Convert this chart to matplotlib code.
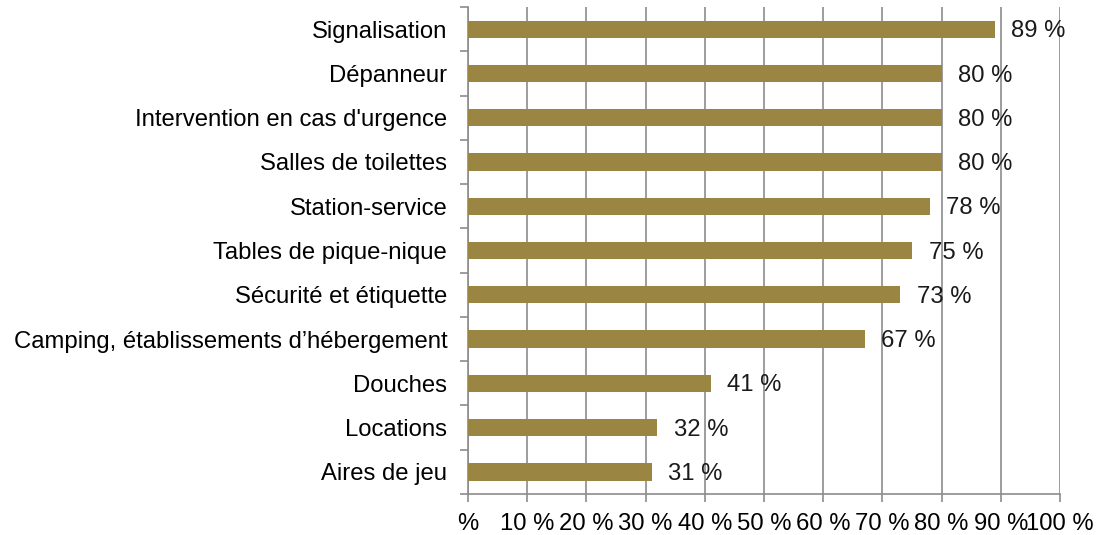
import numpy as np
import matplotlib.pyplot as plt
from matplotlib.ticker import FixedLocator

categories = ['Signalisation', 'Dépanneur', "Intervention en cas d'urgence",
              'Salles de toilettes', 'Station-service', 'Tables de pique-nique',
              'Sécurité et étiquette', 'Camping, établissements d\u2019hébergement',
              'Douches', 'Locations', 'Aires de jeu']
values = [89, 80, 80, 80, 78, 75, 73, 67, 41, 32, 31]
xtick_labels = ['%', '10 %', '20 %', '30 %', '40 %', '50 %', '60 %', '70 %',
                '80 %', '90 %', '100 %']

plt.rcParams['font.family'] = ['Liberation Sans', 'DejaVu Sans']
grey = '#8c8c8c'
fs = 17.2

fig = plt.figure(figsize=(11.01, 5.35), dpi=100)
ax = fig.add_axes([0.4251, 0.0766, 0.5376, 0.9103])

y = np.arange(len(categories))[::-1]
ax.barh(y, values, height=0.39, color='#9b8543', zorder=3)

for yi, v in zip(y, values):
    ax.annotate(f'{v} %', (v, yi), xytext=(12, -1.5), textcoords='offset points',
                va='center', ha='left', fontsize=fs, color='#1a1a1a', zorder=4)

ax.set_xlim(0, 100)
ax.set_ylim(-0.5, len(categories) - 0.5)
ax.set_xticks(np.arange(0, 101, 10))
ax.set_xticklabels(xtick_labels, fontsize=fs)
ax.yaxis.set_major_locator(FixedLocator(np.arange(-0.5, len(categories), 1.0)))
ax.yaxis.set_minor_locator(FixedLocator(y))
ax.set_yticklabels([])
ax.set_yticklabels(categories, minor=True, fontsize=fs)
ax.tick_params(axis='y', which='minor', length=0, pad=15)
ax.tick_params(axis='y', which='major', length=6, color=grey, width=1.2)
ax.tick_params(axis='x', length=6, color=grey, width=1.2, pad=8)

ax.grid(axis='x', color=grey, linewidth=1.2, zorder=0)
for s in ['top', 'right']:
    ax.spines[s].set_visible(False)
for s in ['left', 'bottom']:
    ax.spines[s].set_color(grey)
    ax.spines[s].set_linewidth(1.2)

fig.savefig('out.png', dpi=100)
